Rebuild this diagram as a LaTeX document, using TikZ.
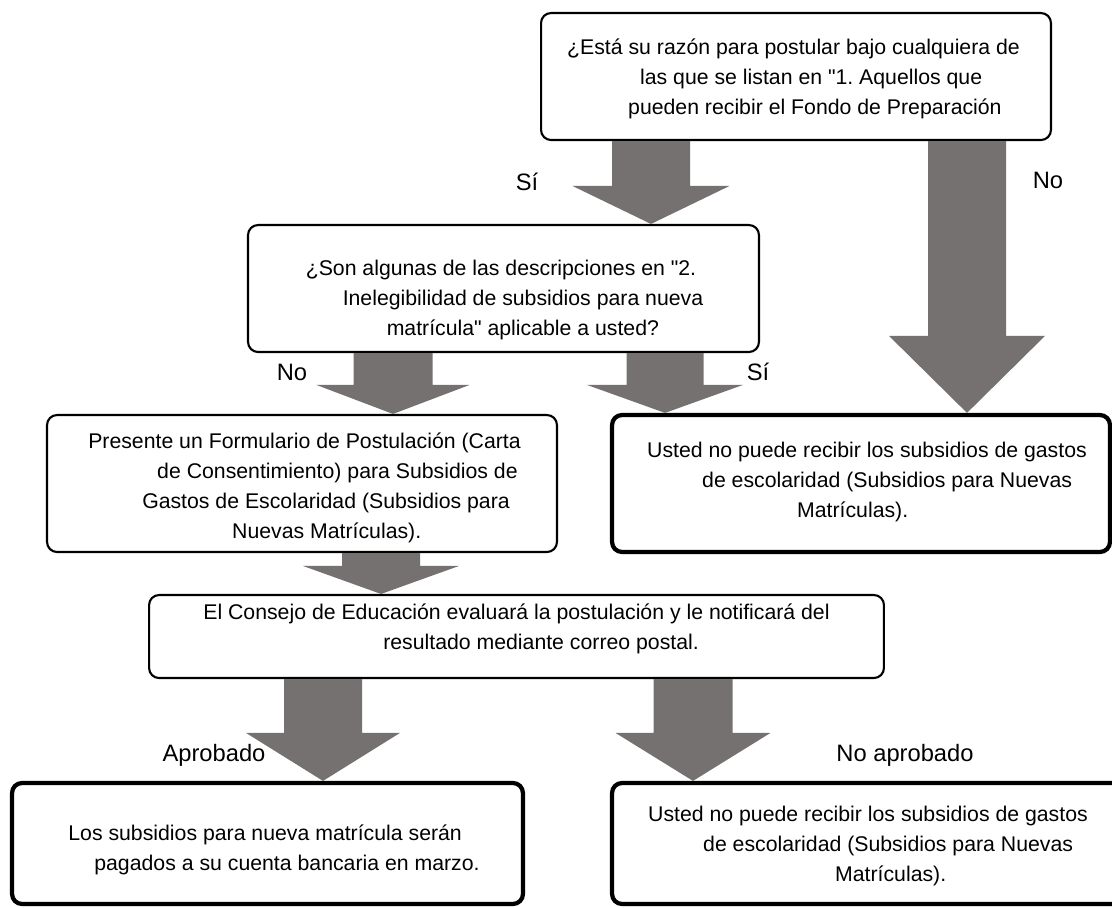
\documentclass[tikz,border=0pt]{standalone}
\usepackage{fontspec}
\setmainfont{Liberation Sans}
\usetikzlibrary{calc}
\definecolor{arrowgray}{RGB}{118,113,113}
\frenchspacing

% block arrow: from node, to node, x, half shaft, half head, head length
\newcommand{\bigarrow}[6]{%
  \fill[arrowgray] let \p1=(#3,0 |- #1.south), \p2=(#3,0 |- #2.north) in
    ([shift={(-#4,0)}]\p1) -- ([shift={(#4,0)}]\p1) -- ([shift={(#4,-#6)}]\p2)
    -- ([shift={(#5,-#6)}]\p2) -- (\p2) -- ([shift={(-#5,-#6)}]\p2)
    -- ([shift={(-#4,-#6)}]\p2) -- cycle;}

\begin{document}
\begin{tikzpicture}[x=0.02cm,y=-0.02cm,
    box/.style={draw,rounded corners=0.2cm,line width=1.2pt,inner sep=0pt},
    thickbox/.style={box,line width=2.4pt},
    txt/.style={align=left,inner sep=0pt,font=\fontsize{12.1}{17}\selectfont},
    lbl/.style={inner sep=0pt,font=\fontsize{13.5}{16}\selectfont}]
  \useasboundingbox (0,0) rectangle (1112,907);
  \clip (0,0) rectangle (1112,907);

  \node[box,minimum width=10.2cm,minimum height=2.54cm] (b1) at (796,76.5) {};
  \node[box,minimum width=10.22cm,minimum height=2.54cm] (b2) at (503.5,288.5) {};
  \node[box,minimum width=10.2cm,minimum height=2.74cm] (b3) at (302,483.5) {};
  \node[thickbox,minimum width=9.96cm,minimum height=2.74cm] (b4) at (861,483.5) {};
  \node[box,minimum width=14.7cm,minimum height=1.66cm] (b5) at (516.5,636.5) {};
  \node[thickbox,minimum width=10.22cm,minimum height=2.42cm] (b6) at (267.5,843.5) {};
  \node[thickbox,minimum width=10.2cm,minimum height=2.42cm] (b7) at (867,843.5) {};

  \node[txt] (t1) at (793.5,79) {¿Está su razón para postular bajo cualquiera de\\
    \hspace*{1.46cm}las que se listan en \textquotedbl 1. Aquellos que\\
    \hspace*{1.22cm}pueden recibir el Fondo de Preparación};
  \node[txt] (t2) at (504.5,300) {¿Son algunas de las descripciones en \textquotedbl 2.\\
    \hspace*{0.74cm}Inelegibilidad de subsidios para nueva\\
    \hspace*{1.62cm}matrícula\textquotedbl{} aplicable a usted?};
  \node[txt] (t3) at (304.5,488) {Presente un Formulario de Postulación (Carta\\
    \hspace*{1.38cm}de Consentimiento) para Subsidios de\\
    \hspace*{1.08cm}Gastos de Escolaridad (Subsidios para\\
    \hspace*{2.88cm}Nuevas Matrículas).};
  \node[txt] (t4) at (867,482) {Usted no puede recibir los subsidios de gastos\\
    \hspace*{1.1cm}de escolaridad (Subsidios para Nuevas\\
    \hspace*{3.0cm}Matrículas).};
  \node[txt] (t5) at (516.5,629) {El Consejo de Educación evaluará la postulación y le notificará del\\
    \hspace*{3.6cm}resultado mediante correo postal.};
  \node[txt] (t6) at (274,850) {Los subsidios para nueva matrícula serán\\
    \hspace*{0.52cm}pagados a su cuenta bancaria en marzo.};
  \node[txt] (t7) at (868,846) {Usted no puede recibir los subsidios de gastos\\
    \hspace*{1.1cm}de escolaridad (Subsidios para Nuevas\\
    \hspace*{3.74cm}Matrículas).};

  \bigarrow{b1}{b2}{651}{39}{78.5}{38}
  \bigarrow{b1}{b4}{967}{39}{78}{77}
  \bigarrow{b2}{b3}{393}{39.5}{76.5}{29}
  \bigarrow{b2}{b4}{665}{38.5}{78}{28}
  \bigarrow{b3}{b5}{381}{39}{78}{28}
  \bigarrow{b5}{b6}{323}{39}{77}{48}
  \bigarrow{b5}{b7}{693}{39.5}{77.5}{48}

  \node[lbl] (l1) at (527,182) {Sí};
  \node[lbl] (l2) at (1048,180) {No};
  \node[lbl] (l3) at (292,372) {No};
  \node[lbl] (l4) at (758,372) {Sí};
  \node[lbl] (l5) at (214,755) {Aprobado};
  \node[lbl] (l6) at (905,755) {No aprobado};
\end{tikzpicture}
\end{document}
